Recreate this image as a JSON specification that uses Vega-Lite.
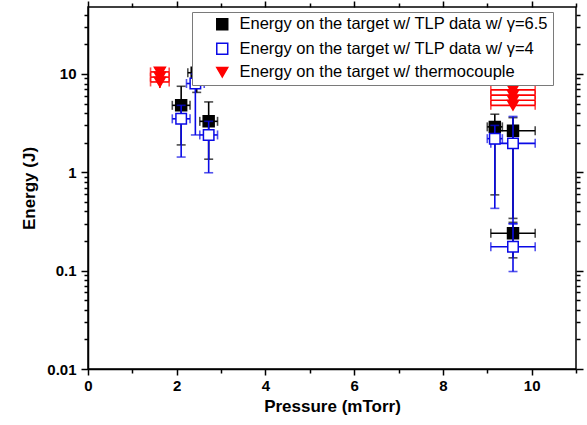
{
  "$schema": "https://vega.github.io/schema/vega-lite/v6.json",
  "width": 488,
  "height": 362,
  "autosize": "none",
  "padding": {"left": 88, "top": 7, "right": 11, "bottom": 56},
  "config": {
    "font": "Liberation Sans",
    "view": {"stroke": "black", "strokeWidth": 1.5},
    "axis": {"domainColor": "black", "tickColor": "black", "labelColor": "black", "titleColor": "black", "grid": false, "domainWidth": 1.5, "tickWidth": 1.5},
    "legend": {"orient": "none", "legendX": 104, "legendY": 5, "title": null, "fillColor": "white", "strokeColor": "#7a7a7a", "padding": 4, "labelFontSize": 16.5, "labelFont": "Liberation Sans", "labelColor": "black", "symbolSize": 120, "symbolStrokeWidth": 1.5, "rowPadding": 6.5, "symbolOffset": 18, "labelOffset": 9, "labelLimit": 600}
  },
  "data": {"values": [
    {"series": "Energy on the target w/ TLP data w/ γ=6.5", "x": 2.1, "y": 4.8, "xlo": 1.9, "xhi": 2.3, "ylo": 1.9, "yhi": 7.5},
    {"series": "Energy on the target w/ TLP data w/ γ=6.5", "x": 2.45, "y": 10.3, "xlo": 2.25, "xhi": 2.65, "ylo": 6.5, "yhi": 15},
    {"series": "Energy on the target w/ TLP data w/ γ=6.5", "x": 2.72, "y": 3.3, "xlo": 2.52, "xhi": 2.92, "ylo": 1.36, "yhi": 5.2},
    {"series": "Energy on the target w/ TLP data w/ γ=6.5", "x": 9.17, "y": 2.9, "xlo": 9.0, "xhi": 9.34, "ylo": 0.59, "yhi": 3.9},
    {"series": "Energy on the target w/ TLP data w/ γ=6.5", "x": 9.58, "y": 2.65, "xlo": 9.1, "xhi": 10.08, "ylo": 0.34, "yhi": 3.6},
    {"series": "Energy on the target w/ TLP data w/ γ=6.5", "x": 9.58, "y": 0.24, "xlo": 9.08, "xhi": 10.08, "ylo": 0.135, "yhi": 0.31},
    {"series": "Energy on the target w/ TLP data w/ γ=4", "x": 2.1, "y": 3.5, "xlo": 1.9, "xhi": 2.3, "ylo": 1.43, "yhi": 4.8},
    {"series": "Energy on the target w/ TLP data w/ γ=4", "x": 2.42, "y": 8.0, "xlo": 2.22, "xhi": 2.62, "ylo": 2.4, "yhi": 10},
    {"series": "Energy on the target w/ TLP data w/ γ=4", "x": 2.72, "y": 2.4, "xlo": 2.52, "xhi": 2.92, "ylo": 0.99, "yhi": 3.3},
    {"series": "Energy on the target w/ TLP data w/ γ=4", "x": 9.17, "y": 2.2, "xlo": 9.0, "xhi": 9.34, "ylo": 0.43, "yhi": 3.0},
    {"series": "Energy on the target w/ TLP data w/ γ=4", "x": 9.58, "y": 1.97, "xlo": 9.08, "xhi": 10.08, "ylo": 0.3, "yhi": 3.7},
    {"series": "Energy on the target w/ TLP data w/ γ=4", "x": 9.58, "y": 0.175, "xlo": 9.08, "xhi": 10.08, "ylo": 0.098, "yhi": 0.3},
    {"series": "Energy on the target w/ thermocouple", "x": 1.62, "y": 10.5, "xlo": 1.41, "xhi": 1.83, "ylo": 9.6, "yhi": 11.8},
    {"series": "Energy on the target w/ thermocouple", "x": 1.62, "y": 9.3, "xlo": 1.41, "xhi": 1.83, "ylo": 8.5, "yhi": 10.2},
    {"series": "Energy on the target w/ thermocouple", "x": 1.62, "y": 8.3, "xlo": 1.41, "xhi": 1.83, "ylo": 7.2, "yhi": 9.2},
    {"series": "Energy on the target w/ thermocouple", "x": 9.58, "y": 6.9, "xlo": 9.08, "xhi": 10.08, "ylo": 6.4, "yhi": 7.6},
    {"series": "Energy on the target w/ thermocouple", "x": 9.58, "y": 6.1, "xlo": 9.08, "xhi": 10.08, "ylo": 5.6, "yhi": 6.6},
    {"series": "Energy on the target w/ thermocouple", "x": 9.58, "y": 5.4, "xlo": 9.08, "xhi": 10.08, "ylo": 5.0, "yhi": 5.9},
    {"series": "Energy on the target w/ thermocouple", "x": 9.58, "y": 4.8, "xlo": 9.08, "xhi": 10.08, "ylo": 4.4, "yhi": 5.2}
  ]},
  "resolve": {"axis": {"x": "independent", "y": "independent"}},
  "layer": [
    {
      "transform": [{"filter": {"field": "series", "equal": "Energy on the target w/ TLP data w/ γ=6.5"}}],
      "mark": {"type": "rule", "strokeWidth": 1.6, "color": "black"},
      "encoding": {
        "x": {"field": "xlo", "type": "quantitative", "scale": {"domain": [0, 11], "nice": false, "zero": false},
          "axis": {"orient": "bottom", "title": "Pressure (mTorr)", "values": [0,1,2,3,4,5,6,7,8,9,10,11],
            "labelExpr": "(datum.value % 2 == 0 && datum.value <= 10) ? datum.label : ''",
            "tickSize": {"condition": {"test": "datum.value % 2 == 0", "value": 6}, "value": 4},
            "labelFontSize": 15, "labelFontWeight": "bold", "labelPadding": 3, "labelFlush": false, "labelOverlap": false,
            "titleFontSize": 17, "titleFontWeight": "bold", "titlePadding": 5}},
        "x2": {"field": "xhi"},
        "y": {"field": "y", "type": "quantitative", "scale": {"type": "log", "domain": [0.01, 48], "nice": false},
          "axis": {"orient": "left", "title": "Energy (J)",
            "values": [0.01,0.02,0.03,0.04,0.05,0.06,0.07,0.08,0.09,0.1,0.2,0.3,0.4,0.5,0.6,0.7,0.8,0.9,1,2,3,4,5,6,7,8,9,10,20,30,40],
            "labelExpr": "abs(log(datum.value)/LN10 - round(log(datum.value)/LN10)) < 0.001 ? format(datum.value, '~g') : ''",
            "tickSize": {"condition": {"test": "abs(log(datum.value)/LN10 - round(log(datum.value)/LN10)) < 0.001", "value": 7}, "value": 4},
            "labelFontSize": 15, "labelFontWeight": "bold", "labelPadding": 5, "labelFlush": false, "labelOverlap": false,
            "titleFontSize": 17, "titleFontWeight": "bold", "titlePadding": 8}}
      }
    },
    {
      "transform": [{"filter": {"field": "series", "equal": "Energy on the target w/ TLP data w/ γ=6.5"}}],
      "mark": {"type": "rule", "strokeWidth": 1.6, "color": "black"},
      "encoding": {
        "x": {"field": "x", "type": "quantitative", "scale": {"domain": [0, 11], "nice": false, "zero": false},
          "axis": {"orient": "top", "title": null, "labels": false, "domain": false, "values": [0,1,2,3,4,5,6,7,8,9,10,11],
            "tickSize": {"condition": {"test": "datum.value % 2 == 0", "value": 6}, "value": 4}}},
        "y": {"field": "ylo", "type": "quantitative", "scale": {"type": "log", "domain": [0.01, 48], "nice": false},
          "axis": {"orient": "right", "title": null, "labels": false, "domain": false,
            "values": [0.01,0.02,0.03,0.04,0.05,0.06,0.07,0.08,0.09,0.1,0.2,0.3,0.4,0.5,0.6,0.7,0.8,0.9,1,2,3,4,5,6,7,8,9,10,20,30,40],
            "tickSize": {"condition": {"test": "abs(log(datum.value)/LN10 - round(log(datum.value)/LN10)) < 0.001", "value": 7}, "value": 4}}},
        "y2": {"field": "yhi"}
      }
    },
    {
      "transform": [{"filter": {"field": "series", "equal": "Energy on the target w/ TLP data w/ γ=6.5"}}, {"fold": ["xlo", "xhi"], "as": ["end", "xe"]}],
      "mark": {"type": "tick", "orient": "vertical", "size": 9, "thickness": 1.6, "color": "black"},
      "encoding": {
        "x": {"field": "xe", "type": "quantitative", "scale": {"domain": [0, 11], "nice": false, "zero": false}, "axis": null},
        "y": {"field": "y", "type": "quantitative", "scale": {"type": "log", "domain": [0.01, 48], "nice": false}, "axis": null}
      }
    },
    {
      "transform": [{"filter": {"field": "series", "equal": "Energy on the target w/ TLP data w/ γ=6.5"}}, {"fold": ["ylo", "yhi"], "as": ["end", "ye"]}],
      "mark": {"type": "tick", "orient": "horizontal", "size": 9, "thickness": 1.6, "color": "black"},
      "encoding": {
        "x": {"field": "x", "type": "quantitative", "scale": {"domain": [0, 11], "nice": false, "zero": false}, "axis": null},
        "y": {"field": "ye", "type": "quantitative", "scale": {"type": "log", "domain": [0.01, 48], "nice": false}, "axis": null}
      }
    },
    {
      "transform": [{"filter": {"field": "series", "equal": "Energy on the target w/ TLP data w/ γ=6.5"}}],
      "mark": {"type": "point", "size": 120, "strokeWidth": 1.5, "opacity": 1},
      "encoding": {
        "x": {"field": "x", "type": "quantitative", "scale": {"domain": [0, 11], "nice": false, "zero": false}, "axis": null},
        "y": {"field": "y", "type": "quantitative", "scale": {"type": "log", "domain": [0.01, 48], "nice": false}, "axis": null},
        "color": {"field": "series", "type": "nominal", "scale": {"domain": ["Energy on the target w/ TLP data w/ γ=6.5", "Energy on the target w/ TLP data w/ γ=4", "Energy on the target w/ thermocouple"], "range": ["black", "#0a0ae6", "#ff0000"]}},
        "fill": {"field": "series", "type": "nominal", "scale": {"domain": ["Energy on the target w/ TLP data w/ γ=6.5", "Energy on the target w/ TLP data w/ γ=4", "Energy on the target w/ thermocouple"], "range": ["black", "white", "#ff0000"]}},
        "shape": {"field": "series", "type": "nominal", "scale": {"domain": ["Energy on the target w/ TLP data w/ γ=6.5", "Energy on the target w/ TLP data w/ γ=4", "Energy on the target w/ thermocouple"], "range": ["square", "square", "triangle-down"]}}
      }
    },
    {
      "transform": [{"filter": {"field": "series", "equal": "Energy on the target w/ TLP data w/ γ=4"}}],
      "mark": {"type": "rule", "strokeWidth": 1.6, "color": "#0a0ae6"},
      "encoding": {
        "x": {"field": "xlo", "type": "quantitative", "scale": {"domain": [0, 11], "nice": false, "zero": false}, "axis": null},
        "x2": {"field": "xhi"},
        "y": {"field": "y", "type": "quantitative", "scale": {"type": "log", "domain": [0.01, 48], "nice": false}, "axis": null}
      }
    },
    {
      "transform": [{"filter": {"field": "series", "equal": "Energy on the target w/ TLP data w/ γ=4"}}],
      "mark": {"type": "rule", "strokeWidth": 1.6, "color": "#0a0ae6"},
      "encoding": {
        "x": {"field": "x", "type": "quantitative", "scale": {"domain": [0, 11], "nice": false, "zero": false}, "axis": null},
        "y": {"field": "ylo", "type": "quantitative", "scale": {"type": "log", "domain": [0.01, 48], "nice": false}, "axis": null},
        "y2": {"field": "yhi"}
      }
    },
    {
      "transform": [{"filter": {"field": "series", "equal": "Energy on the target w/ TLP data w/ γ=4"}}, {"fold": ["xlo", "xhi"], "as": ["end", "xe"]}],
      "mark": {"type": "tick", "orient": "vertical", "size": 9, "thickness": 1.6, "color": "#0a0ae6"},
      "encoding": {
        "x": {"field": "xe", "type": "quantitative", "scale": {"domain": [0, 11], "nice": false, "zero": false}, "axis": null},
        "y": {"field": "y", "type": "quantitative", "scale": {"type": "log", "domain": [0.01, 48], "nice": false}, "axis": null}
      }
    },
    {
      "transform": [{"filter": {"field": "series", "equal": "Energy on the target w/ TLP data w/ γ=4"}}, {"fold": ["ylo", "yhi"], "as": ["end", "ye"]}],
      "mark": {"type": "tick", "orient": "horizontal", "size": 9, "thickness": 1.6, "color": "#0a0ae6"},
      "encoding": {
        "x": {"field": "x", "type": "quantitative", "scale": {"domain": [0, 11], "nice": false, "zero": false}, "axis": null},
        "y": {"field": "ye", "type": "quantitative", "scale": {"type": "log", "domain": [0.01, 48], "nice": false}, "axis": null}
      }
    },
    {
      "transform": [{"filter": {"field": "series", "equal": "Energy on the target w/ TLP data w/ γ=4"}}],
      "mark": {"type": "point", "size": 110, "strokeWidth": 1.5, "opacity": 1},
      "encoding": {
        "x": {"field": "x", "type": "quantitative", "scale": {"domain": [0, 11], "nice": false, "zero": false}, "axis": null},
        "y": {"field": "y", "type": "quantitative", "scale": {"type": "log", "domain": [0.01, 48], "nice": false}, "axis": null},
        "color": {"field": "series", "type": "nominal"},
        "fill": {"field": "series", "type": "nominal"},
        "shape": {"field": "series", "type": "nominal"}
      }
    },
    {
      "transform": [{"filter": {"field": "series", "equal": "Energy on the target w/ thermocouple"}}],
      "mark": {"type": "rule", "strokeWidth": 1.6, "color": "#ff0000"},
      "encoding": {
        "x": {"field": "xlo", "type": "quantitative", "scale": {"domain": [0, 11], "nice": false, "zero": false}, "axis": null},
        "x2": {"field": "xhi"},
        "y": {"field": "y", "type": "quantitative", "scale": {"type": "log", "domain": [0.01, 48], "nice": false}, "axis": null}
      }
    },
    {
      "transform": [{"filter": {"field": "series", "equal": "Energy on the target w/ thermocouple"}}],
      "mark": {"type": "rule", "strokeWidth": 1.6, "color": "#ff0000"},
      "encoding": {
        "x": {"field": "x", "type": "quantitative", "scale": {"domain": [0, 11], "nice": false, "zero": false}, "axis": null},
        "y": {"field": "ylo", "type": "quantitative", "scale": {"type": "log", "domain": [0.01, 48], "nice": false}, "axis": null},
        "y2": {"field": "yhi"}
      }
    },
    {
      "transform": [{"filter": {"field": "series", "equal": "Energy on the target w/ thermocouple"}}, {"fold": ["xlo", "xhi"], "as": ["end", "xe"]}],
      "mark": {"type": "tick", "orient": "vertical", "size": 9, "thickness": 1.6, "color": "#ff0000"},
      "encoding": {
        "x": {"field": "xe", "type": "quantitative", "scale": {"domain": [0, 11], "nice": false, "zero": false}, "axis": null},
        "y": {"field": "y", "type": "quantitative", "scale": {"type": "log", "domain": [0.01, 48], "nice": false}, "axis": null}
      }
    },
    {
      "transform": [{"filter": {"field": "series", "equal": "Energy on the target w/ thermocouple"}}],
      "mark": {"type": "point", "size": 120, "strokeWidth": 1.5, "opacity": 1},
      "encoding": {
        "x": {"field": "x", "type": "quantitative", "scale": {"domain": [0, 11], "nice": false, "zero": false}, "axis": null},
        "y": {"field": "y", "type": "quantitative", "scale": {"type": "log", "domain": [0.01, 48], "nice": false}, "axis": null},
        "color": {"field": "series", "type": "nominal"},
        "fill": {"field": "series", "type": "nominal"},
        "shape": {"field": "series", "type": "nominal"}
      }
    }
  ]
}
